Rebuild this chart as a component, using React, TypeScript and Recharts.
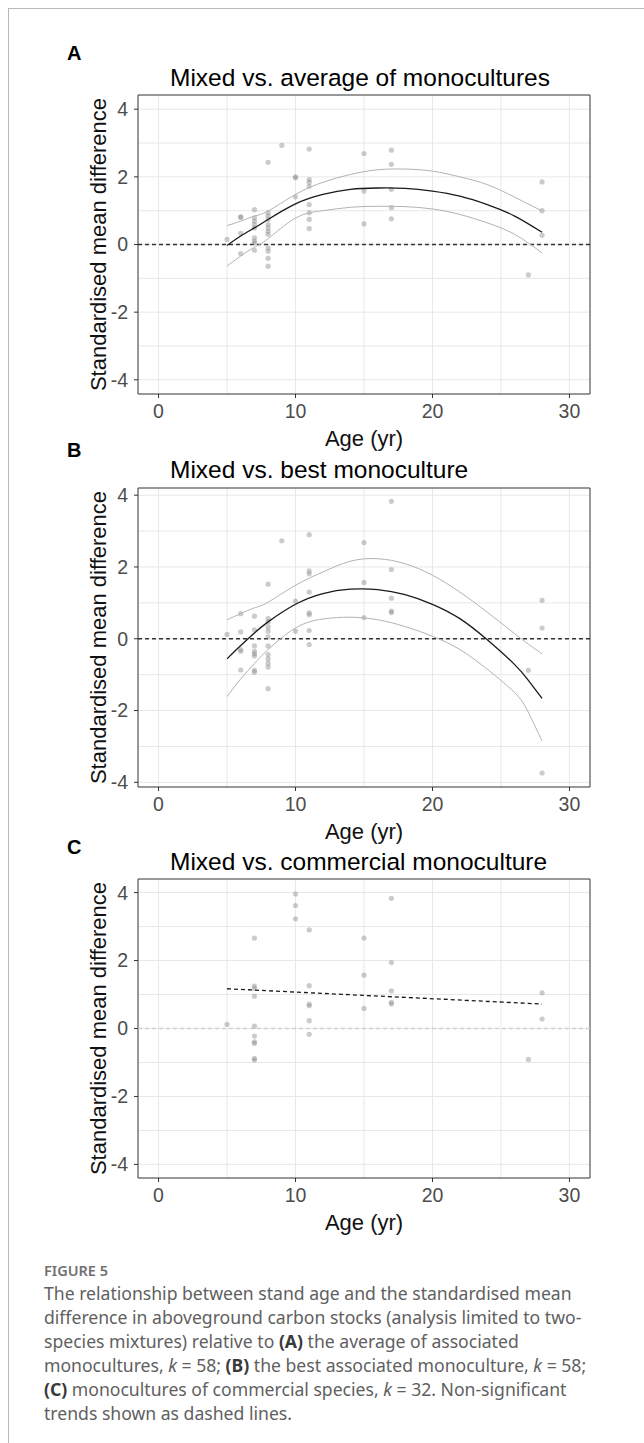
// @ts-nocheck
import React from "react";
import {
  ScatterChart,
  Scatter,
  XAxis,
  YAxis,
  CartesianGrid,
  ReferenceLine,
  ReferenceArea,
} from "recharts";

// A: mixed vs. average of monocultures
const ageA = [5, 6, 6, 6, 6, 7, 7, 7, 7, 7, 7, 7, 7, 7, 8, 8, 8, 8, 8, 8, 8, 8, 8, 8, 8, 8, 9, 10, 10, 10, 11, 11, 11, 11, 11, 11, 11, 11, 15, 15, 15, 17, 17, 17, 17, 17, 27, 28, 28, 28];
const smdA = [0.15, 0.82, 0.8, 0.33, -0.27, 1.03, 0.79, 0.69, 0.59, 0.49, 0.2, 0.1, 0.05, -0.17, 2.43, 0.94, 0.84, 0.74, 0.59, 0.49, 0.39, 0.3, -0.1, -0.2, -0.41, -0.64, 2.93, 2.0, 1.97, 1.41, 2.82, 1.92, 1.84, 1.72, 1.18, 0.94, 0.74, 0.47, 2.69, 1.58, 0.61, 2.79, 2.37, 1.63, 1.09, 0.76, -0.9, 1.85, 1.0, 0.27];
const fitAgeA = [5, 6, 7, 8, 10, 12, 14, 16, 18, 20, 22, 24, 26, 28];
const fitA = [-0.03, 0.25, 0.49, 0.74, 1.2, 1.48, 1.63, 1.67, 1.66, 1.58, 1.43, 1.18, 0.84, 0.36];
const upperA = [0.56, 0.69, 0.84, 0.99, 1.48, 1.84, 2.07, 2.21, 2.23, 2.17, 2.0, 1.77, 1.4, 0.99];
const lowerA = [-0.64, -0.34, -0.08, 0.17, 0.78, 1.0, 1.1, 1.13, 1.12, 1.05, 0.89, 0.64, 0.3, -0.25];

// B: mixed vs. best monoculture
const ageB = [5, 6, 6, 6, 6, 6, 7, 7, 7, 7, 7, 7, 7, 7, 8, 8, 8, 8, 8, 8, 8, 8, 8, 8, 8, 8, 9, 10, 10, 11, 11, 11, 11, 11, 11, 11, 11, 15, 15, 15, 17, 17, 17, 17, 17, 27, 28, 28, 28];
const smdB = [0.12, 0.7, 0.19, -0.3, -0.35, -0.87, 0.63, 0.25, -0.2, -0.35, -0.42, -0.48, -0.88, -0.93, 1.52, 0.56, 0.47, 0.33, 0.21, 0.05, -0.2, -0.44, -0.56, -0.68, -0.79, -1.39, 2.73, 1.05, 0.21, 2.9, 1.89, 1.81, 1.3, 0.72, 0.67, 0.23, -0.16, 2.68, 1.57, 0.59, 3.83, 1.93, 1.13, 0.77, 0.73, -0.88, 1.07, 0.3, -3.74];
const fitAgeB = [5, 6, 7, 8, 10, 12, 14, 16, 18, 20, 22, 24, 26, 27, 28];
const fitB = [-0.56, -0.19, 0.16, 0.47, 0.96, 1.26, 1.38, 1.37, 1.23, 0.96, 0.56, -0.03, -0.72, -1.16, -1.66];
const upperB = [0.53, 0.7, 0.86, 1.02, 1.49, 1.86, 2.16, 2.23, 2.09, 1.77, 1.3, 0.74, 0.14, -0.15, -0.42];
const lowerB = [-1.61, -1.12, -0.69, -0.3, 0.3, 0.55, 0.6, 0.53, 0.34, 0.07, -0.3, -0.85, -1.5, -2.05, -2.85];

// C: mixed vs. commercial monoculture
const ageC = [5, 7, 7, 7, 7, 7, 7, 7, 7, 7, 7, 10, 10, 10, 11, 11, 11, 11, 11, 11, 15, 15, 15, 17, 17, 17, 17, 17, 27, 28, 28];
const smdC = [0.12, 2.66, 1.25, 1.18, 0.95, 0.07, -0.22, -0.39, -0.44, -0.88, -0.93, 3.96, 3.62, 3.23, 2.9, 1.26, 0.72, 0.67, 0.23, -0.17, 2.66, 1.57, 0.59, 3.83, 1.94, 1.11, 0.77, 0.72, -0.91, 1.05, 0.28];
const trendAgeC = [5, 28];
const trendC = [1.17, 0.72];

const xTicks = [0, 10, 20, 30];
const yTicks = [-4, -2, 0, 2, 4];
const xGrid = [0, 5, 10, 15, 20, 25, 30];
const yGrid = [-4, -3, -2, -1, 0, 1, 2, 3, 4];

const zip = (xs, ys) => xs.map((x, i) => ({ x, y: ys[i] }));

const FONT = "'Liberation Sans', Arial, sans-serif";
const CAP = "'Noto Sans', 'Open Sans', sans-serif";
const Dot = (p) => (
  <circle cx={p.cx} cy={p.cy} r={2.6} fill="#8c8c8c" fillOpacity={0.45} />
);
const NoDot = () => null;

const Panel = ({ top, yDomain, points, curves, zeroColor }) => (
  <div style={{ position: "absolute", left: 0, top: top - 5 }}>
    <ScatterChart
      width={600}
      height={364}
      margin={{ top: 5, right: 10, bottom: 0, left: 0 }}
    >
      <CartesianGrid
        stroke="#e8e8e8"
        strokeWidth={1}
        verticalValues={xGrid}
        horizontalValues={yGrid}
      />
      <XAxis
        type="number"
        dataKey="x"
        domain={[-1.5, 31.5]}
        ticks={xTicks}
        allowDataOverflow
        height={60}
        axisLine={false}
        tickSize={4}
        tickMargin={6}
        tickLine={{ stroke: "#333" }}
        tick={{ fill: "#4d4d4d", fontSize: 19.5, fontFamily: FONT }}
        label={{
          value: "Age (yr)",
          position: "insideBottom",
          offset: 8,
          style: { fill: "#111", fontSize: 22, fontFamily: FONT },
        }}
      />
      <YAxis
        type="number"
        dataKey="y"
        domain={yDomain}
        ticks={yTicks}
        allowDataOverflow
        width={138}
        axisLine={false}
        tickSize={4}
        tickMargin={6}
        tickLine={{ stroke: "#333" }}
        tick={{ fill: "#4d4d4d", fontSize: 19.5, fontFamily: FONT }}
        label={{
          value: "Standardised mean difference",
          angle: -90,
          position: "insideLeft",
          offset: 98,
          style: { fill: "#111", fontSize: 22, fontFamily: FONT, textAnchor: "middle" },
        }}
      />
      <ReferenceLine
        y={0}
        stroke={zeroColor}
        strokeWidth={1.3}
        strokeDasharray="4 3"
      />
      <Scatter data={points} shape={Dot} isAnimationActive={false} />
      {curves.map((c, i) => (
        <Scatter
          key={i}
          data={c.data}
          shape={NoDot}
          line={{ stroke: c.stroke, strokeWidth: c.width, strokeDasharray: c.dash }}
          lineJointType="natural"
          isAnimationActive={false}
        />
      ))}
      <ReferenceArea
        x1={-1.5}
        x2={31.5}
        y1={yDomain[0]}
        y2={yDomain[1]}
        fill="none"
        stroke="#333"
        strokeWidth={1}
        fillOpacity={0}
      />
    </ScatterChart>
  </div>
);

const Letter = ({ y, children }) => (
  <div
    style={{
      position: "absolute",
      left: 67,
      top: y - 10,
      fontFamily: FONT,
      fontWeight: 700,
      fontSize: 20,
      lineHeight: "20px",
      color: "#000",
    }}
  >
    {children}
  </div>
);

const Title = ({ y, children }) => (
  <div
    style={{
      position: "absolute",
      left: 170,
      top: y - 12,
      fontFamily: FONT,
      fontSize: 24.5,
      lineHeight: "24px",
      color: "#000",
      whiteSpace: "nowrap",
    }}
  >
    {children}
  </div>
);

const B = ({ children }) => <b style={{ color: "#3a3a3a" }}>{children}</b>;

export default function App() {
  const ci = "#b3b3b3";
  return (
    <div style={{ position: "relative", width: 644, height: 1443, background: "#fff" }}>
      <style>{"body{margin:0}"}</style>
      <div
        style={{
          position: "absolute",
          left: 8,
          top: 8,
          width: 636,
          height: 1435,
          borderLeft: "1px solid #b8b8b8",
          borderTop: "1px solid #b8b8b8",
        }}
      />

      <Letter y={53}>A</Letter>
      <Title y={78}>Mixed vs. average of monocultures</Title>
      <Panel
        top={95}
        yDomain={[-4.42, 4.42]}
        points={zip(ageA, smdA)}
        zeroColor="#333"
        curves={[
          { data: zip(fitAgeA, upperA), stroke: ci, width: 1 },
          { data: zip(fitAgeA, lowerA), stroke: ci, width: 1 },
          { data: zip(fitAgeA, fitA), stroke: "#1a1a1a", width: 1.3 },
        ]}
      />

      <Letter y={450}>B</Letter>
      <Title y={470}>Mixed vs. best monoculture</Title>
      <Panel
        top={488}
        yDomain={[-4.13, 4.2]}
        points={zip(ageB, smdB)}
        zeroColor="#333"
        curves={[
          { data: zip(fitAgeB, upperB), stroke: ci, width: 1 },
          { data: zip(fitAgeB, lowerB), stroke: ci, width: 1 },
          { data: zip(fitAgeB, fitB), stroke: "#1a1a1a", width: 1.3 },
        ]}
      />

      <Letter y={847}>C</Letter>
      <Title y={862}>Mixed vs. commercial monoculture</Title>
      <Panel
        top={879}
        yDomain={[-4.4, 4.4]}
        points={zip(ageC, smdC)}
        zeroColor="#cfcfcf"
        curves={[
          { data: zip(trendAgeC, trendC), stroke: "#1a1a1a", width: 1.3, dash: "4 3" },
        ]}
      />

      <div
        style={{
          position: "absolute",
          left: 44,
          top: 1261,
          fontFamily: CAP,
          fontSize: 14.5,
          fontWeight: 600,
          lineHeight: "18px",
          color: "#707070",
        }}
      >
        FIGURE 5
      </div>
      <div
        style={{
          position: "absolute",
          left: 44,
          top: 1281,
          width: 590,
          fontFamily: CAP,
          fontSize: 17.6,
          lineHeight: "24.1px",
          color: "#606060",
          whiteSpace: "nowrap",
        }}
      >
        The relationship between stand age and the standardised mean
        <br />
        difference in aboveground carbon stocks (analysis limited to two-
        <br />
        species mixtures) relative to <B>(A)</B> the average of associated
        <br />
        monocultures, <i>k</i> = 58; <B>(B)</B> the best associated monoculture, <i>k</i> = 58;
        <br />
        <B>(C)</B> monocultures of commercial species, <i>k</i> = 32. Non-significant
        <br />
        trends shown as dashed lines.
      </div>
    </div>
  );
}
